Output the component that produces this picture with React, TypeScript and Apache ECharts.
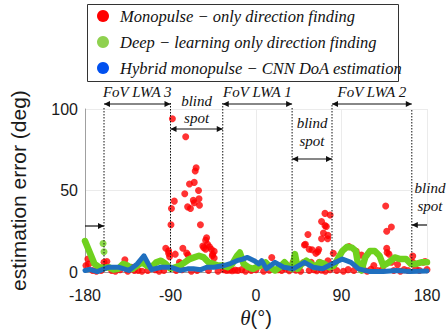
import React, { useEffect, useRef } from 'react';
import * as echarts from 'echarts';

const xTicks = { min: -180, max: 180, step: 90 };
const yTicks = { min: 0, max: 100, step: 50 };

const legendLabels = [
  'Monopulse − only direction finding',
  'Deep − learning only direction finding',
  'Hybrid monopulse − CNN DoA estimation',
];
const legendColors = ['#ff0000', '#8fd14f', '#0050ef'];

// Monopulse-only direction finding (red scatter)
const redTheta = [
  -88, -74, -63, -64, -65, -70, -86, -75, -60.5, -66, -65, -60, -72, -69, -59.5, -89, -89.5, -58.5,
  -52, -53, -56, -51, -77, -53, -47, -45.6, -44, -85, -73, -71.6, -92, -95, -92, -91, -44, -80.6,
  -79, -46, -55, -49,
  -179, -177, -176, -160, -157, -138, -131, -124,
  72.6, 78, 69, 72.6, 74, 54.7, 71, 75.7, 69, 75.4, 51, 56, 63, 65, 58, 66.7, 75.7, 81.4, 16.6, 2.8,
  39, 45, 50, 59, 66, 52,
  136.5, 142.5, 137.6, 137.6, 140, 138, 111, 98, 105.5, 165, 176, 178, 165, 149, 124, 142.6,
  -172, -168, -163, -152, -148, -143, -135, -128, -120, -114, -106, -102, -97, -84, -78, -68, -62,
  -50, -40, -34, -31, -28, -25, -22, -19, -15, -11, -5, 0, 8, 14, 23, 27, 31, 35, 42, 47, 56, 61,
  64, 69, 73, 78, 85, 92, 97, 103, 113, 117, 121, 128, 133, 145, 152, 156, 160, 168, 172, 180,
];
const redErr = [
  94, 83, 64, 62, 55, 54, 43.5, 48, 50, 44, 42.5, 45, 40, 39, 41, 39, 29, 29,
  21, 19.5, 16, 17, 14.6, 14, 14, 11, 12.7, 11, 11.7, 10.5, 13, 14.6, 11.5, 9.5, 8.6, 6,
  5, 10, 15, 15.5,
  4, 8, 5, 6, 6.5, 7.5, 3, 1,
  36, 35, 31, 28.5, 28, 23, 24, 22.5, 20.4, 20.4, 16.6, 14, 11.5, 12.5, 6, 6, 7, 11.5, 8.9, 5,
  6, 3, 5.8, 13.7, 13.8, 17,
  40.5, 27.7, 25, 14.6, 11, 12, 10.4, 15.6, 12.7, 9.8, 6, 6.5, 6, 4.6, 4, 6,
  1, 0.5, 1, 1, 0.5, 1.5, 0.5, 1, 0.5, 1, 1.5, 0.5, 1, 1, 1.5, 0.5, 1,
  1, 0.5, 1.5, 1, 1.2, 0.8, 1.2, 1, 1.5, 0.5, 1, 1.5, 0.5, 1.2, 1.5, 1, 2, 0.8, 1.2, 0.5, 1, 1.5,
  0.8, 1.2, 0.5, 1.5, 1, 0.5, 1.5, 1, 1.5, 0.5, 1.8, 1, 1.5, 1, 0.5, 1.5, 1, 2, 1, 1.5,
];

// Deep-learning-only direction finding (green)
const greenTheta = [
  -180, -175, -170, -165, -160, -155, -150, -145, -140, -135, -130, -125, -120, -115, -110, -105,
  -100, -95, -90, -85, -80, -75, -70, -65, -60, -55, -50, -45, -40, -35, -30, -25, -20, -17, -13,
  -8, -3, 0, 5, 10, 15, 20, 25, 30, 35, 38, 41, 44, 48, 53, 58, 62, 67, 72, 77, 82, 87, 91, 96,
  101, 105, 108, 111, 115, 120, 125, 130, 134, 140, 146, 152, 158, 163, 168, 174, 180,
];
const greenErr = [
  19, 12, 5, 3, 2.5, 3, 1.5, 2, 5, 4, 2, 4, 6, 4, 3, 6,
  7, 5, 2, 3, 4, 6, 8, 9, 10, 9, 6, 5, 4, 4, 3, 5, 10, 12, 5,
  3, 2, 3, 4, 6, 3, 1, 3, 6, 3, 2, 11, 2, 5, 7, 5, 3, 6, 5, 3, 4, 9, 13, 15.5,
  15, 13, 3, 1, 9, 13, 13, 10, 4, 6, 9, 8, 8, 5, 5, 6, 6,
];
const greenExtraTheta = [-161, -160];
const greenExtraErr = [17.5, 12.5];

// Hybrid monopulse-CNN DoA estimation (blue)
const blueTheta = [
  -180, -175, -167, -160, -155, -145, -134, -125, -118, -110, -100, -90, -80, -72, -66, -58, -52,
  -44, -34, -28, -20, -14, -9, -2, 3, 6, 11, 20, 29, 39, 51, 60, 70, 80, 91, 100, 108, 120, 134,
  148, 162, 180,
];
const blueErr = [
  1, 1.7, 0.3, 2, 3, 3, 1, 5, 10, 1.5, 3, 3, 1, 2, 2, 1.5, 3,
  3, 4, 5, 7, 8, 9, 7, 5, 7, 2, 6, 3, 2, 6, 3, 2, 5, 8, 6, 2, 0.3, 0.3,
  1, 0.3, 0.7,
];

// Field-of-view / blind-spot boundaries (deg)
const zoneBounds = [-160, -90, -35, 38, 80, 164];
const fovLabels = ['FoV LWA 3', 'FoV LWA 1', 'FoV LWA 2'];

const zip = (a: number[], b: number[]) => a.map((v, i) => [v, b[i]]);

export default function App() {
  const ref = useRef<HTMLDivElement>(null);
  useEffect(() => {
    if (!ref.current) return;
    const chart = echarts.init(ref.current, undefined, { renderer: 'svg' });
    const serifIt = 'italic 15px "Liberation Serif"';
    chart.setOption({
      animation: false,
      grid: { left: 80, right: 21, top: 109, bottom: 52 },
      xAxis: {
        type: 'value',
        min: xTicks.min,
        max: xTicks.max,
        interval: xTicks.step,
        axisLine: { show: true, onZero: false, lineStyle: { color: '#a0a0a0', width: 1 } },
        axisTick: { show: false },
        splitLine: { show: true, lineStyle: { color: '#ebebeb', width: 1 } },
        axisLabel: { fontSize: 16, color: '#1a1a1a', fontFamily: 'Liberation Sans', margin: 15 },
        name: '{t|θ}{p|(°)}',
        nameLocation: 'middle',
        nameGap: 35,
        nameTextStyle: {
          rich: {
            t: { fontStyle: 'italic', fontFamily: 'Liberation Serif', fontSize: 21, color: '#1a1a1a' },
            p: { fontFamily: 'Liberation Sans', fontSize: 20, color: '#1a1a1a' },
          },
        },
      },
      yAxis: {
        type: 'value',
        min: yTicks.min,
        max: yTicks.max,
        interval: yTicks.step,
        axisLine: { show: true, onZero: false, lineStyle: { color: '#a0a0a0', width: 1 } },
        axisTick: { show: false },
        splitLine: { show: true, lineStyle: { color: '#ebebeb', width: 1 } },
        axisLabel: { fontSize: 16, color: '#1a1a1a', fontFamily: 'Liberation Sans', margin: 7 },
        name: 'estimation error (deg)',
        nameLocation: 'middle',
        nameGap: 56,
        nameTextStyle: { fontSize: 21, fontFamily: 'Liberation Sans', color: '#1a1a1a' },
      },
      series: [
        {
          name: legendLabels[0],
          type: 'scatter',
          data: zip(redTheta, redErr),
          symbolSize: 7,
          itemStyle: { color: '#ff0000' },
          clip: false,
          z: 2,
        },
        {
          name: legendLabels[1],
          type: 'line',
          data: zip(greenTheta, greenErr),
          showSymbol: false,
          symbol: 'none',
          lineStyle: { color: '#6fd11e', width: 6.5, cap: 'round', join: 'round' },
          itemStyle: { color: '#6fd11e' },
          clip: false,
          z: 3,
        },
        {
          name: legendLabels[1] + ' ',
          type: 'scatter',
          data: zip(greenExtraTheta, greenExtraErr),
          symbolSize: 7,
          itemStyle: { color: '#6fd11e' },
          clip: false,
          z: 3,
        },
        {
          name: legendLabels[2],
          type: 'line',
          data: zip(blueTheta, blueErr),
          showSymbol: false,
          symbol: 'none',
          lineStyle: { color: '#1f6fbf', width: 5, cap: 'round', join: 'round' },
          itemStyle: { color: '#1f6fbf' },
          clip: false,
          z: 4,
        },
      ],
    });

    const px = (deg: number) => (chart.convertToPixel({ gridIndex: 0 }, [deg, 0]) as number[])[0];
    const yBottom = (chart.convertToPixel({ gridIndex: 0 }, [0, 0]) as number[])[1];
    const xb = zoneBounds.map(px);
    const xLeft = px(xTicks.min);
    const xRight = px(xTicks.max);

    const g: any[] = [];
    const txt = (s: string, x: number, y: number) => ({
      type: 'text',
      z: 10,
      style: {
        text: s, x, y, font: serifIt, fill: '#111',
        textAlign: 'center', textVerticalAlign: 'middle', align: 'center', verticalAlign: 'middle',
      },
    });
    const head = (xTip: number, y: number, dir: number) => ({
      type: 'polygon',
      z: 10,
      shape: { points: [[xTip, y], [xTip - dir * 6, y - 3], [xTip - dir * 6, y + 3]] },
      style: { fill: '#111' },
    });
    const arrow = (x1: number, x2: number, y: number, heads: 'both' | 'start' | 'end') => {
      g.push({ type: 'line', z: 10, shape: { x1, y1: y, x2, y2: y }, style: { stroke: '#111', lineWidth: 1.2 } });
      if (heads === 'both' || heads === 'start') g.push(head(x1, y, -1));
      if (heads === 'both' || heads === 'end') g.push(head(x2, y, 1));
    };

    // dotted boundaries
    const tops = [108, 103, 103, 108, 105, 110];
    xb.forEach((x, i) => {
      g.push({
        type: 'line', z: 9,
        shape: { x1: x, y1: tops[i], x2: x, y2: yBottom },
        style: { stroke: '#111', lineWidth: 1, lineDash: [1.5, 1.5] },
      });
    });

    // FoV labels
    const fovPairs = [[0, 1], [2, 3], [4, 5]];
    fovPairs.forEach(([a, b], i) => {
      g.push(txt(fovLabels[i], (xb[a] + xb[b]) / 2, 92));
      arrow(xb[a], xb[b], 104, 'both');
    });
    // blind spot 1
    g.push(txt('blind', (xb[1] + xb[2]) / 2, 101));
    g.push(txt('spot', (xb[1] + xb[2]) / 2, 118));
    arrow(xb[1], xb[2], 129, 'both');
    // blind spot 2
    g.push(txt('blind', (xb[3] + xb[4]) / 2, 123));
    g.push(txt('spot', (xb[3] + xb[4]) / 2, 141));
    arrow(xb[3], xb[4], 159, 'both');
    // right blind spot
    g.push(txt('blind', 430, 188));
    g.push(txt('spot', 430, 206));
    arrow(xb[5], xRight, 225, 'start');
    // left arrow
    arrow(xLeft, xb[0], 226, 'end');

    // legend box
    g.push({
      type: 'rect', z: 20,
      shape: { x: 87.5, y: 4.5, width: 311, height: 77 },
      style: { fill: '#ffffff', stroke: '#333', lineWidth: 1 },
    });
    const rows = [16, 42, 68];
    rows.forEach((y, i) => {
      g.push({ type: 'circle', z: 21, shape: { cx: 103, cy: y, r: 6 }, style: { fill: legendColors[i] } });
      g.push({
        type: 'text', z: 21,
        style: {
          text: legendLabels[i], x: 120, y, font: 'italic 16.5px "Liberation Serif"', fill: '#111',
          textAlign: 'left', textVerticalAlign: 'middle', align: 'left', verticalAlign: 'middle',
        },
      });
    });

    chart.setOption({ graphic: g });
    return () => chart.dispose();
  }, []);
  return <div ref={ref} style={{ position: 'absolute', left: 0, top: 0, width: 448, height: 334 }} />;
}
